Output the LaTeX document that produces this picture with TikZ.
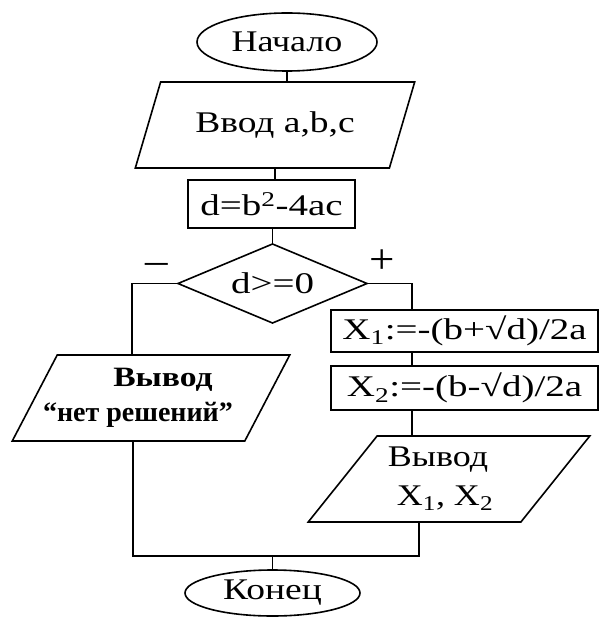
\documentclass[tikz,border=0pt]{standalone}
\usepackage{fontspec}
\setmainfont{Liberation Serif}
\usetikzlibrary{shapes.geometric}
\newcommand\myfs[2]{\fontsize{#1}{#2}\selectfont}
\newcommand\sx[2]{\scalebox{#1}[1]{#2}}
\begin{document}
\begin{tikzpicture}[x=1pt,y=-1pt,
  every node/.style={inner sep=0pt, outer sep=0pt, font=\myfs{30}{38}},
  line/.style={line width=1.6pt},
  term/.style={draw, line width=1.6pt, ellipse},
  io/.style={draw, line width=1.6pt, trapezium, trapezium left angle=56.5, trapezium right angle=123.5, trapezium stretches=true, minimum height=86pt, align=center},
  proc/.style={draw, line width=1.6pt, rectangle},
  cond/.style={draw, line width=1.6pt, diamond, aspect=2.4}
]
\fill[white] (0,0) rectangle (601,617);
\useasboundingbox (0,0) rectangle (601,617);

\node[term, minimum width=180pt, minimum height=58pt] (start) at (287,42) {\sx{1.2}{Начало}};
\node[io, minimum width=280pt] (in) at (275,125) {\sx{1.25}{Ввод a,b,c}};
\node[proc, minimum width=167pt, minimum height=48pt] (calc) at (271.5,204) {\sx{1.3}{d=b\textsuperscript{2}-4ac}};
\node[cond, minimum width=189pt, minimum height=79pt] (dia) at (272.5,283.5) {\sx{1.3}{d>=0}};
\node[proc, minimum width=267pt, minimum height=42pt] (x1) at (464.5,331) {\sx{1.3}{X\textsubscript{1}:=-(b+√d)/2a}};
\node[proc, minimum width=267pt, minimum height=44pt] (x2) at (464.5,388) {\sx{1.3}{X\textsubscript{2}:=-(b-√d)/2a}};
\node[io, minimum width=278pt, font=\myfs{28}{35}\bfseries] (nores) at (151,398) {\hspace*{24pt}\sx{1.2}{Вывод}\\\hspace*{-26pt}“нет решений”};
\node[io, minimum width=282pt, font=\myfs{30}{39}] (out) at (449,479) {\hspace*{-22pt}\sx{1.2}{Вывод}\\\hspace*{-8pt}\sx{1.2}{X\textsubscript{1}, X\textsubscript{2}}};
\node[term, minimum width=175pt, minimum height=46pt] (end) at (272.5,593) {\sx{1.25}{Конец}};

\node (minus) at (157,268) {\scalebox{1.5}[1.3]{–}};
\node (plus) at (382,262) {\scalebox{1.5}[1.4]{+}};

\coordinate (L) at (132,283.5);
\coordinate (R) at (412,283.5);
\coordinate (ML) at (133,556);
\coordinate (MR) at (419,556);

\draw[line] (start.south) -- (start.south |- in.north);
\draw[line] (in.south) -- (in.south |- calc.north);
\draw[line] (dia.north |- calc.south) -- (dia.north);
\draw[line] (dia.west) -- (L) -- (L |- nores.north);
\draw[line] (dia.east) -- (R) -- (R |- x1.north);
\draw[line] (R |- x1.south) -- (R |- x2.north);
\draw[line] (R |- x2.south) -- (R |- out.north);
\draw[line] (ML |- nores.south) -- (ML) -- (MR) -- (MR |- out.south);
\draw[line] (end.north |- ML) -- (end.north);
\end{tikzpicture}
\end{document}
